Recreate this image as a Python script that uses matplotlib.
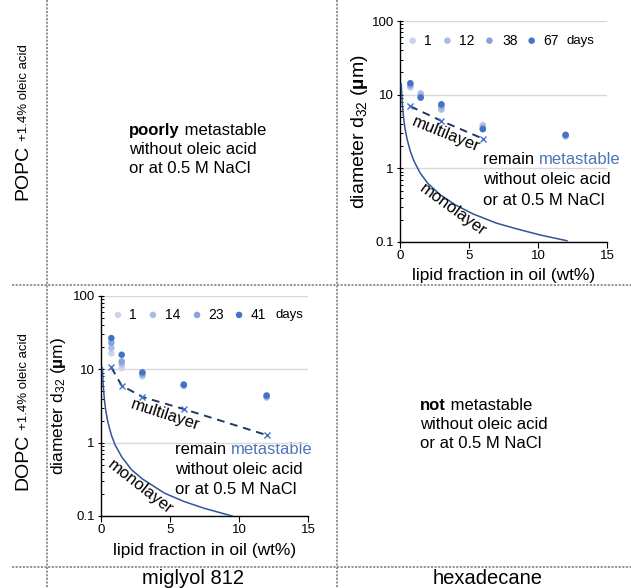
import matplotlib
matplotlib.use("Agg")
import matplotlib.pyplot as plt
from matplotlib.lines import Line2D

plt.rcParams['font.family'] = ['Liberation Sans', 'DejaVu Sans']
plt.rcParams['mathtext.fontset'] = 'custom'
plt.rcParams['mathtext.rm'] = 'Liberation Sans'
plt.rcParams['mathtext.it'] = 'Liberation Sans:italic'
plt.rcParams['mathtext.bf'] = 'Liberation Sans:bold'

W, H = 631, 588

# ---------------- data ----------------
lipid_x = [0.75, 1.5, 3, 6, 12]

# top-right panel (POPC + 1.4% oleic acid, hexadecane)
tr_days = ['1', '12', '38', '67']
tr_d32 = [
    [12.5, 10.5, 6.2, 3.9, 2.70],
    [13.0, 10.2, 6.4, 3.7, 2.75],
    [13.6, 9.4, 7.0, 3.5, 2.80],
    [14.3, 9.1, 7.4, 3.4, 2.85],
]
tr_multi_x = [0.75, 3, 6]
tr_multi_y = [6.95, 4.4, 2.53]
tr_mono_x = [0.09, 0.15, 0.25, 0.35, 0.5, 0.73, 1.0, 1.45, 2.0, 2.9, 4.0, 5.3, 7.0, 8.5, 10.2, 12.1]
tr_mono_y = [14.0, 8.4, 5.1, 3.6, 2.55, 1.75, 1.27, 0.87, 0.63, 0.44, 0.32, 0.24, 0.18, 0.15, 0.124, 0.104]

# bottom-left panel (DOPC + 1.4% oleic acid, miglyol 812)
bl_days = ['1', '14', '23', '41']
bl_d32 = [
    [16.5, 10.4, 8.0, 5.9, 4.1],
    [19.5, 11.8, 8.3, 6.0, 4.2],
    [23.0, 12.8, 8.7, 6.1, 4.3],
    [26.7, 15.8, 9.1, 6.2, 4.4],
]
bl_multi_x = [0.75, 1.5, 3, 6, 12]
bl_multi_y = [10.6, 6.0, 4.2, 2.87, 1.27]
bl_mono_x = [0.1, 0.15, 0.25, 0.35, 0.5, 0.75, 1.0, 1.5, 2.2, 3.0, 4.6, 6.0, 7.5, 9.5]
bl_mono_y = [10.5, 6.4, 3.8, 2.7, 1.9, 1.27, 0.95, 0.64, 0.43, 0.32, 0.205, 0.158, 0.127, 0.1]

day_colors = ['#C9D4EC', '#A8BCE4', '#86A3DA', '#4472C4']
blue_text = '#4F74B8'
mono_color = '#2F5597'
multi_color = '#1F3864'
xmark_color = '#4472C4'

xticks = [0, 5, 10, 15]
yticks = [0.1, 1, 10, 100]
ytick_labels = ['0.1', '1', '10', '100']

fig = plt.figure(figsize=(W / 100, H / 100), dpi=100)


def fx(px):
    return px / W


def fy(py):
    return 1 - py / H


def make_axes(left, top, right, bottom, ylabel_size, ylabel_pad, xlabel_pad):
    ax = fig.add_axes([fx(left), fy(bottom), fx(right) - fx(left), fy(top) - fy(bottom)])
    ax.set_yscale('log')
    ax.set_xlim(0, 15)
    ax.set_ylim(0.1, 100)
    ax.set_xticks(xticks)
    ax.set_xticklabels([str(v) for v in xticks])
    ax.set_yticks(yticks)
    ax.set_yticklabels(ytick_labels)
    for s in ['top', 'right']:
        ax.spines[s].set_visible(False)
    for s in ['left', 'bottom']:
        ax.spines[s].set_linewidth(1.0)
    ax.grid(axis='y', which='major', color='#D9D9D9', lw=1.0)
    ax.set_axisbelow(True)
    ax.tick_params(axis='both', which='major', labelsize=9.5, length=4, width=0.8, direction='out', pad=2)
    ax.tick_params(axis='y', which='minor', length=2.5, width=0.7, direction='in')
    ax.tick_params(axis='y', which='major', direction='inout', length=5)
    ax.set_xlabel('lipid fraction in oil (wt%)', fontsize=12.5, labelpad=xlabel_pad)
    ax.set_ylabel('diameter d$_{32}$ ($\\mathbf{µ}$m)', fontsize=ylabel_size, labelpad=ylabel_pad)
    ax.patch.set_alpha(0)
    return ax


def draw_panel(ax, d32, days, mx, my, mox, moy, leg_mx, leg_lx, days_x, leg_y):
    ax.plot(mox, moy, color=mono_color, lw=1.1, zorder=3)
    ax.plot(mx, my, color=multi_color, lw=1.4, ls=(0, (4, 3)), zorder=3)
    ax.plot(mx, my, ls='none', marker='x', ms=4, mew=1.0, color=xmark_color, zorder=4)
    for vals, col in zip(d32, day_colors):
        ax.scatter(lipid_x, vals, s=22, color=col, edgecolors='none', zorder=5)
    for m, l, lab, col in zip(leg_mx, leg_lx, days, day_colors):
        ax.scatter([m], [leg_y], s=22, color=col, edgecolors='none', transform=ax.transAxes, clip_on=False)
        ax.text(l, leg_y, lab, transform=ax.transAxes, ha='center', va='center', fontsize=10)
    ax.text(days_x, leg_y, 'days', transform=ax.transAxes, ha='center', va='center', fontsize=9.5)


# top-right panel
ax1 = make_axes(400, 21, 607, 242, 14, 1, 4)
draw_panel(ax1, tr_d32, tr_days, tr_multi_x, tr_multi_y, tr_mono_x, tr_mono_y,
           [0.061, 0.229, 0.432, 0.636], [0.135, 0.324, 0.531, 0.730], 0.870, 0.911)

# bottom-left panel
ax2 = make_axes(101, 296, 308, 516, 12.5, 3, 5)
draw_panel(ax2, bl_d32, bl_days, bl_multi_x, bl_multi_y, bl_mono_x, bl_mono_y,
           [0.082, 0.251, 0.464, 0.667], [0.155, 0.348, 0.556, 0.758], 0.908, 0.914)

fs_txt = 12


def block(x, y, first, second, first_kw, second_kw, lines, dy=20):
    t1 = fig.text(fx(x), fy(y), first, fontsize=fs_txt, ha='left', va='baseline', **first_kw)
    ax1.annotate(second, xy=(1, 0), xycoords=t1, ha='left', va='bottom',
                 fontsize=fs_txt, annotation_clip=False, **second_kw)
    for i, ln in enumerate(lines):
        fig.text(fx(x), fy(y + dy * (i + 1)), ln, fontsize=fs_txt, ha='left', va='baseline')


block(129, 135, 'poorly', ' metastable', {'fontweight': 'bold'}, {}, ['without oleic acid', 'or at 0.5 M NaCl'], dy=19)
block(420, 410, 'not', ' metastable', {'fontweight': 'bold'}, {}, ['without oleic acid', 'or at 0.5 M NaCl'], dy=19)
block(483, 164, 'remain ', 'metastable', {}, {'color': blue_text}, ['without oleic acid', 'or at 0.5 M NaCl'], dy=20.5)
block(175, 454, 'remain ', 'metastable', {}, {'color': blue_text}, ['without oleic acid', 'or at 0.5 M NaCl'], dy=20)

# curve labels
fig.text(fx(446), fy(134), 'multilayer', fontsize=fs_txt, rotation=-22, ha='center', va='center', rotation_mode='anchor')
fig.text(fx(453), fy(210), 'monolayer', fontsize=fs_txt, rotation=-36, ha='center', va='center', rotation_mode='anchor')
fig.text(fx(165), fy(415), 'multilayer', fontsize=fs_txt, rotation=-18, ha='center', va='center', rotation_mode='anchor')
fig.text(fx(140), fy(487), 'monolayer', fontsize=fs_txt, rotation=-38, ha='center', va='center', rotation_mode='anchor')

# row labels
for big, ybase in [('POPC', 200), ('DOPC', 490)]:
    tb = fig.text(fx(27), fy(ybase), big, fontsize=14, rotation=90, rotation_mode='anchor',
                  ha='left', va='baseline')
    ax1.annotate('+1.4% oleic acid', xy=(fx(27), 1), xycoords=('figure fraction', tb),
                 xytext=(0, 3), textcoords='offset points', fontsize=9.5, rotation=90,
                 rotation_mode='anchor', ha='left', va='baseline', annotation_clip=False)

# column labels
fig.text(fx(193), fy(578), 'miglyol 812', fontsize=14.5, ha='center', va='center')
fig.text(fx(488), fy(578), 'hexadecane', fontsize=14.5, ha='center', va='center')

# dashed frame lines
frame_kw = dict(color='#8C8C8C', lw=1.3, ls=(0, (1.2, 0.8)))
fig.add_artist(Line2D([fx(47), fx(47)], [fy(0), fy(588)], **frame_kw))
fig.add_artist(Line2D([fx(336.5), fx(336.5)], [fy(0), fy(588)], **frame_kw))
fig.add_artist(Line2D([fx(12), fx(631)], [fy(285), fy(285)], **frame_kw))
fig.add_artist(Line2D([fx(12), fx(631)], [fy(567), fy(567)], **frame_kw))

fig.savefig('out.png', dpi=100)
